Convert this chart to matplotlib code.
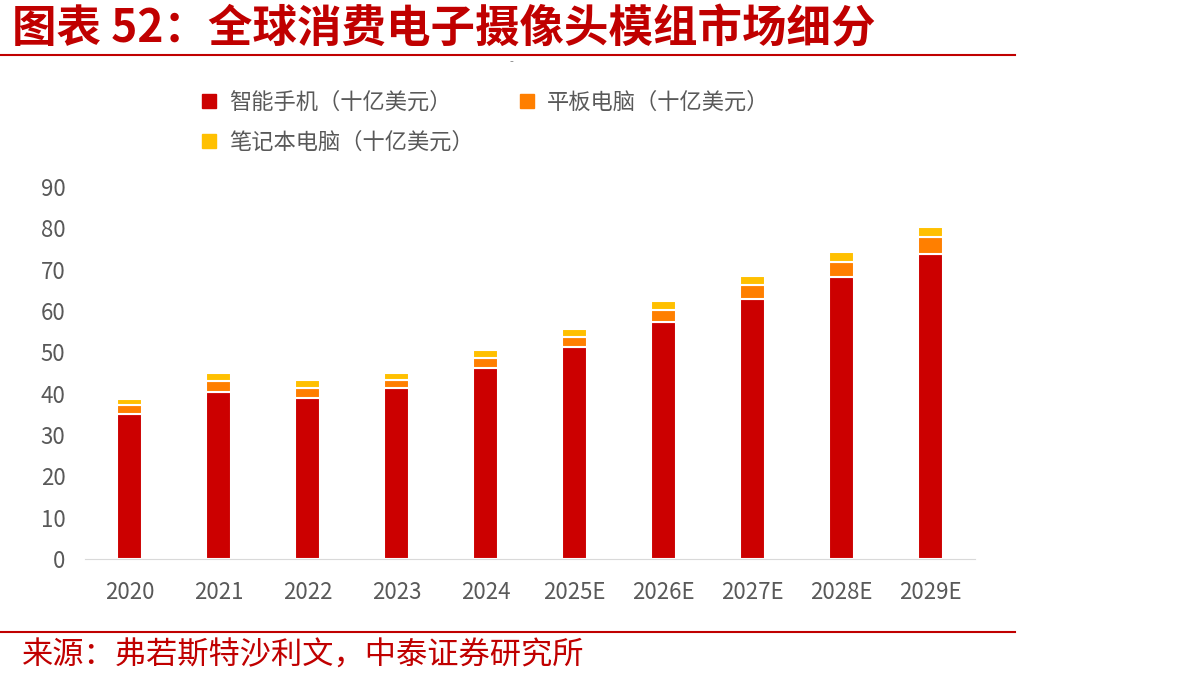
import matplotlib.pyplot as plt
from matplotlib.lines import Line2D
import numpy as np

plt.rcParams['font.family'] = ['Noto Sans CJK SC', 'DejaVu Sans']

# 数据（十亿美元）
years = ['2020', '2021', '2022', '2023', '2024', '2025E', '2026E', '2027E', '2028E', '2029E']
smartphone = [35.0, 40.5, 39.0, 41.3, 46.3, 51.3, 57.3, 63.0, 68.3, 73.8]
tablet = [2.2, 2.5, 2.3, 2.0, 2.3, 2.4, 3.0, 3.2, 3.6, 4.0]
laptop = [1.6, 2.0, 2.0, 1.6, 2.0, 2.0, 2.0, 2.2, 2.4, 2.6]

labels = ['智能手机（十亿美元）', '平板电脑（十亿美元）', '笔记本电脑（十亿美元）']
colors = ['#CC0000', '#FF7F00', '#FFC000']

fig = plt.figure(figsize=(11.92, 6.84), dpi=100)
ax = fig.add_axes([85 / 1192, 1 - 559 / 684, 890 / 1192, (559 - 187) / 684])

x = np.arange(len(years))
w = 0.28
bottom = np.zeros(len(years))
for vals, col, lab in zip([smartphone, tablet, laptop], colors, labels):
    ax.bar(x, vals, w, bottom=bottom, color=col, edgecolor='white', linewidth=1.5, label=lab)
    bottom += np.array(vals)

ax.set_xlim(-0.5, len(years) - 0.5)
ax.set_ylim(0, 90)
ax.set_yticks(range(0, 91, 10))
ax.set_xticks(x)
ax.set_xticklabels(years)
for s in ['top', 'right', 'left']:
    ax.spines[s].set_visible(False)
ax.spines['bottom'].set_color('#D9D9D9')
ax.tick_params(axis='both', length=0, labelsize=16, colors='#595959')
ax.tick_params(axis='x', pad=16)
ax.tick_params(axis='y', pad=14)

# 图例（按行排列：手机、平板 / 笔记本）
handles = [Line2D([], [], marker='s', linestyle='none', markersize=10, color=c) for c in colors]
order = [0, 2, 1]
fig.legend([handles[i] for i in order], [labels[i] for i in order], loc='upper left',
           bbox_to_anchor=(178 / 1192, 1 - 71 / 684), handlelength=1.0,
           ncol=2, frameon=False, fontsize=16, labelcolor='#595959',
           handletextpad=0.4, columnspacing=1.9, labelspacing=0.75)

# 标题与来源
fig.text(12 / 1192, 1 - 29 / 684, '图表 52：全球消费电子摄像头模组市场细分', color='#C00000',
         fontsize=32, fontweight='bold', va='center', ha='left')
fig.add_artist(Line2D([0, 1015 / 1192], [1 - 55 / 684] * 2, color='#C00000', linewidth=1.5))
fig.add_artist(Line2D([0, 1015 / 1192], [1 - 632 / 684] * 2, color='#C00000', linewidth=1.5))
fig.text(22 / 1192, 1 - 656 / 684, '来源：弗若斯特沙利文，中泰证券研究所', color='#C00000',
         fontsize=22.5, va='center', ha='left')
fig.text(511 / 1192, 1 - 62 / 684, '-', color='#808080', fontsize=8, va='center', ha='center')

fig.savefig('out.png', dpi=100)
